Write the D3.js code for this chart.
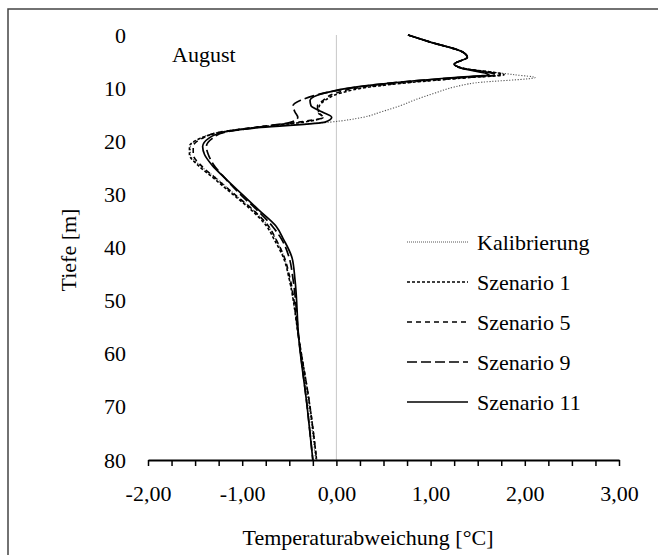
<!DOCTYPE html>
<html>
<head>
<meta charset="utf-8">
<script src="https://cdn.jsdelivr.net/npm/d3@7"></script>
<style>
  body { margin: 0; background: #fff; }
  svg { display: block; }
</style>
</head>
<body>
<svg id="drawing_region"></svg>
<script>
// depth [m] shared by all series
const depth = [0, 1.3, 3.2, 4.2, 5.5, 6.2, 7.5, 8.0, 9.0, 9.8, 10.9, 12.3, 13.3, 14.5, 15.5, 16.4,
               17.4, 18.3, 19.5, 21, 22.5, 24.5, 27, 30, 33, 36, 38.5, 42, 46, 57, 70, 80];

const kalibrierung = [0.76, 0.99, 1.34, 1.39, 1.25, 1.34, 1.90, 2.11, 1.48, 1.25, 1.05, 0.82, 0.68, 0.47, 0.28, -0.07,
                      -0.85, -1.25, -1.45, -1.55, -1.55, -1.45, -1.27, -1.08, -0.88, -0.72, -0.64, -0.55, -0.50, -0.40, -0.29, -0.22];
const szenario1 = [0.76, 0.99, 1.34, 1.39, 1.25, 1.33, 1.78, 1.42, 0.75, 0.35, 0.05, -0.12, -0.18, -0.19, -0.14, -0.35,
                   -0.85, -1.22, -1.45, -1.56, -1.56, -1.47, -1.30, -1.10, -0.90, -0.74, -0.66, -0.56, -0.50, -0.40, -0.28, -0.21];
const szenario5 = [0.76, 0.99, 1.34, 1.39, 1.25, 1.33, 1.74, 1.38, 0.70, 0.28, 0.00, -0.14, -0.20, -0.20, -0.14, -0.40,
                   -0.88, -1.24, -1.43, -1.52, -1.52, -1.44, -1.28, -1.08, -0.88, -0.72, -0.64, -0.55, -0.49, -0.40, -0.28, -0.21];
const szenario9 = [0.76, 0.99, 1.34, 1.39, 1.25, 1.32, 1.70, 1.30, 0.60, 0.22, -0.12, -0.38, -0.46, -0.44, -0.41, -0.48,
                   -0.85, -1.18, -1.32, -1.38, -1.36, -1.30, -1.18, -1.02, -0.84, -0.68, -0.58, -0.50, -0.46, -0.40, -0.31, -0.25];
const szenario11 = [0.76, 0.99, 1.34, 1.39, 1.25, 1.32, 1.62, 1.25, 0.60, 0.20, -0.12, -0.28, -0.27, -0.15, -0.05, -0.12,
                    -0.80, -1.20, -1.36, -1.42, -1.40, -1.32, -1.18, -1.00, -0.82, -0.64, -0.56, -0.47, -0.44, -0.40, -0.31, -0.25];

const seriesNames = ["Kalibrierung", "Szenario 1", "Szenario 5", "Szenario 9", "Szenario 11"];
const seriesValues = [kalibrierung, szenario1, szenario5, szenario9, szenario11];
const seriesDash = ["1.2,1.6", "3,2", "5,4", "10,4", null];
const seriesWidth = [1.1, 1.6, 1.6, 1.7, 1.7];
const seriesColor = ["#555", "#000", "#000", "#000", "#000"];

const xTicks = d3.range(-2, 3.001, 0.25);
const yTicks = [0, 10, 20, 30, 40, 50, 60, 70, 80];

const FONT = '"Liberation Serif", "Times New Roman", "Liberation Sans", serif';
const FS = 22;

const svg = d3.select('#drawing_region')
    .attr('width', 658)
    .attr('height', 555)
    .attr('font-family', FONT);

// outer frame
svg.append('rect')
    .attr('x', 8).attr('y', 9)
    .attr('width', 700).attr('height', 600)
    .attr('fill', 'none')
    .attr('stroke', '#444')
    .attr('stroke-width', 1.5);

const xscale = d3.scaleLinear().domain([-2, 3]).range([148, 619]);
const yscale = d3.scaleLinear().domain([0, 80]).range([35, 460]);

// zero line
svg.append('line')
    .attr('x1', xscale(0)).attr('x2', xscale(0))
    .attr('y1', yscale(0)).attr('y2', yscale(80))
    .attr('stroke', '#c8c8c8')
    .attr('stroke-width', 1);

const line = d3.line()
    .x(d => xscale(d[1]))
    .y(d => yscale(d[0]))
    .curve(d3.curveMonotoneY);

seriesValues.forEach((vals, i) => {
    const pts = depth.map((dp, j) => [dp, vals[j]]);
    svg.append('path')
        .datum(pts)
        .attr('d', line)
        .attr('fill', 'none')
        .attr('stroke', seriesColor[i])
        .attr('stroke-width', seriesWidth[i])
        .attr('stroke-dasharray', seriesDash[i]);
});

// x axis
const fmt = d => d3.format('.2f')(d).replace('.', ',').replace('−', '-');
const xaxis = d3.axisBottom(xscale)
    .tickValues(xTicks)
    .tickSize(6)
    .tickSizeOuter(0)
    .tickPadding(19)
    .tickFormat(d => Math.abs(d - Math.round(d)) < 1e-9 ? fmt(d) : '');

const xg = svg.append('g')
    .attr('transform', `translate(0, ${yscale(80)})`)
    .call(xaxis)
    .attr('font-family', FONT)
    .attr('font-size', FS);
xg.select('.domain').attr('stroke', '#000').attr('stroke-width', 2);
xg.selectAll('.tick line').attr('stroke', '#000').attr('stroke-width', 1.5);
xg.selectAll('text').attr('fill', '#000');

// y axis (labels only)
const yaxis = d3.axisLeft(yscale)
    .tickValues(yTicks)
    .tickSize(0)
    .tickPadding(22);
const yg = svg.append('g')
    .attr('transform', `translate(148, 0)`)
    .call(yaxis)
    .attr('font-family', FONT)
    .attr('font-size', FS);
yg.select('.domain').remove();
yg.selectAll('text').attr('fill', '#000');

// titles
svg.append('text')
    .attr('x', 368).attr('y', 545)
    .attr('text-anchor', 'middle')
    .attr('font-size', FS)
    .text('Temperaturabweichung [°C]');

svg.append('text')
    .attr('transform', 'rotate(-90) translate(-250, 76)')
    .attr('text-anchor', 'middle')
    .attr('font-size', FS)
    .text('Tiefe [m]');

svg.append('text')
    .attr('x', 172).attr('y', 62)
    .attr('font-size', FS)
    .text('August');

// legend
const legendY = [242, 282, 322, 362, 402];
seriesNames.forEach((name, i) => {
    svg.append('line')
        .attr('x1', 407).attr('x2', 468)
        .attr('y1', legendY[i]).attr('y2', legendY[i])
        .attr('stroke', seriesColor[i])
        .attr('stroke-width', i === 0 ? 1 : 1.4)
        .attr('stroke-dasharray', i === 0 ? '1,1' : seriesDash[i]);
    svg.append('text')
        .attr('x', 477).attr('y', legendY[i] + 8)
        .attr('font-size', FS)
        .text(name);
});
</script>
</body>
</html>
